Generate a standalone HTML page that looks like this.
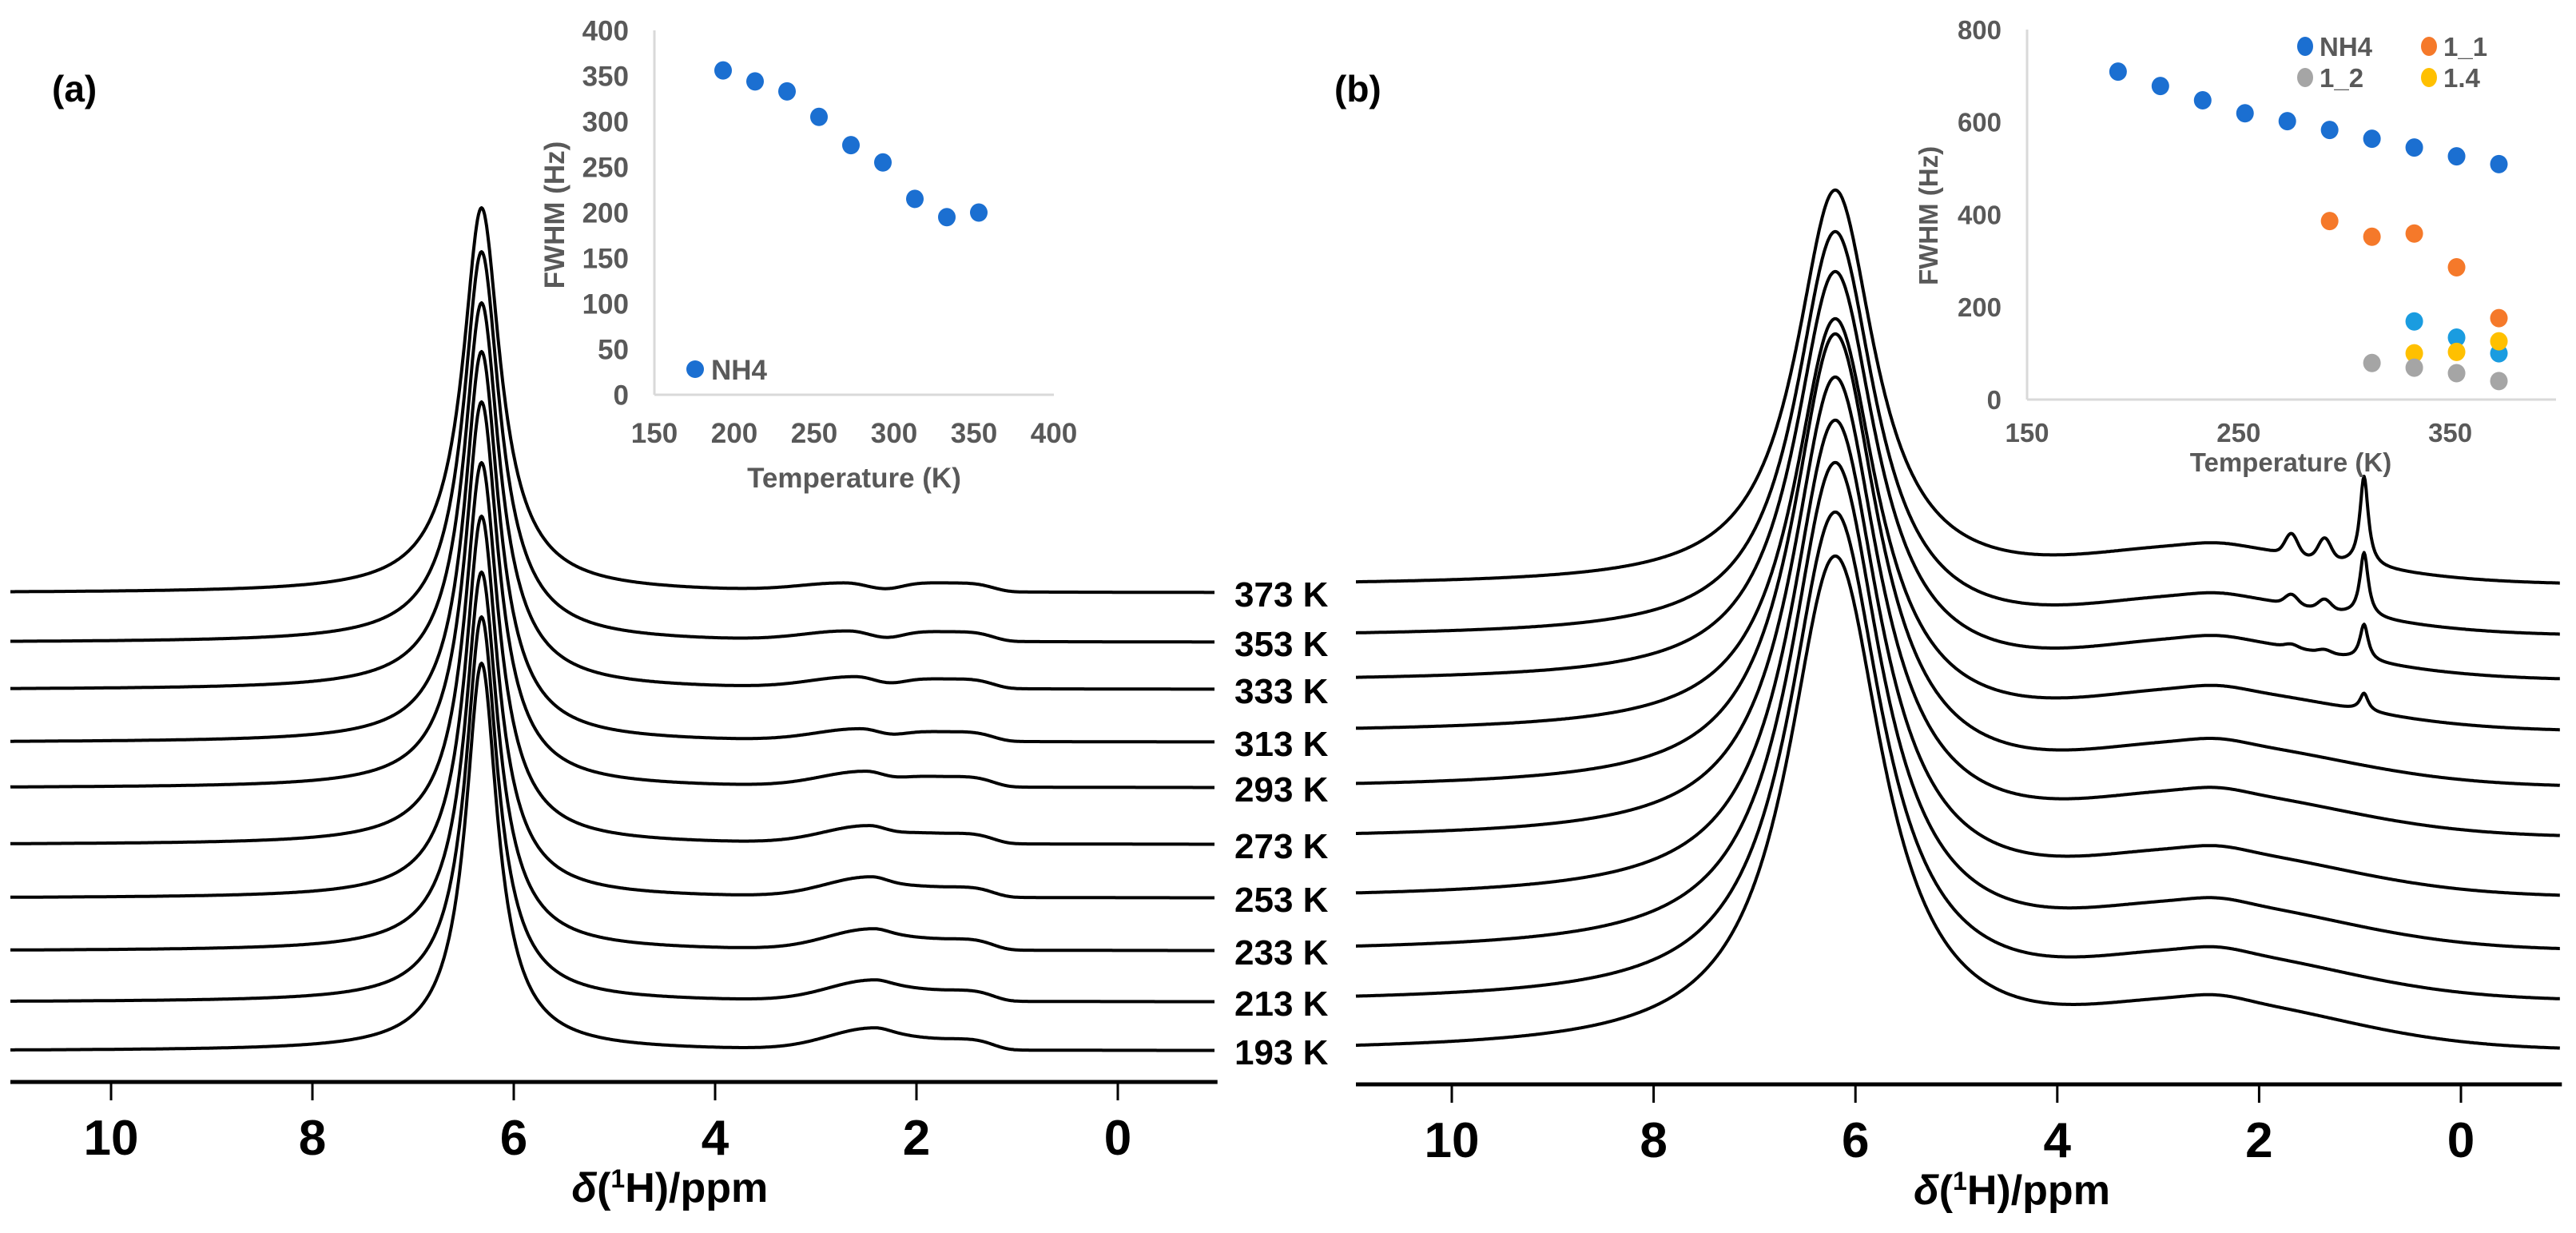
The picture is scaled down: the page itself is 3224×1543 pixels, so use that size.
<!DOCTYPE html>
<html><head><meta charset="utf-8">
<style>
html,body{margin:0;padding:0;background:#fff;}
svg{display:block;}
text{font-family:"Liberation Sans",Arial,sans-serif;}
</style></head>
<body>
<svg id="fig" xmlns="http://www.w3.org/2000/svg" width="3224" height="1543" viewBox="0 0 3224 1543">
<rect width="3224" height="1543" fill="#fff"/>
<text x="65" y="127" font-size="46" font-weight="bold">(a)</text>
<text x="1670" y="127" font-size="46" font-weight="bold">(b)</text>
<g id="gA"></g>
<g id="gB"></g>
<g id="gL"></g>
<g id="insA"></g>
<g id="insB"></g>
</svg>
<script>
// ---------- data ----------
const temps = [193,213,233,253,273,293,313,333,353,373];
const ppmTicks = [10,8,6,4,2,0];
// panel (a)
const heightA = [485,482,474,478,478,483,489,484,489,482];
const widthA = [0.36,0.36,0.37,0.37,0.38,0.38,0.39,0.4,0.41,0.42];
const humpA = [27,26,26,25,22,19,15,14,12,10];
const humpPosA = [2.42,2.42,2.43,2.45,2.47,2.5,2.55,2.6,2.67,2.7];
const shoulderA = [14,14,14,13,13,13,12,12,12,11];
const baseA = [1315,1254,1190,1124,1057,986,929,863,804,742];
// panel (b)
const heightB = [621,614,613,599,578,569,518,513,507,495];
const widthB = [1.15,1.12,1.1,1.08,1.05,1.03,1.0,0.98,0.96,0.95];
const broadB = [53,52,51,50,49,48,46,45,43,42];
const sharpB = [0,0,0,0,0,0,22,45,80,112];
const smallB = [0,0,0,0,0,0,0,4,12,25];
const baseB = [1317,1255,1192,1125,1050,987,917,853,797,733];
// inset (a)
const insATemps = [193,213,233,253,273,293,313,333,353];
const insAVals = [356,344,333,305,274,255,215,195,200];
const insAYTicks = [0,50,100,150,200,250,300,350,400];
const insAXTicks = [150,200,250,300,350,400];
// inset (b)
const nh4T = [193,213,233,253,273,293,313,333,353,373];
const nh4V = [709,678,647,619,602,583,564,545,526,509];
const s11T = [293,313,333,353,373];
const s11V = [386,352,359,286,176];
const s12T = [313,333,353,373];
const s12V = [79,69,57,40];
const s13T = [333,353,373];
const s13V = [169,134,100];
const s14T = [333,353,373];
const s14V = [100,103,126];
const insBYTicks = [0,200,400,600,800];
const insBXTicks = [150,250,350];

const NS="http://www.w3.org/2000/svg";
function mk(tag, attrs, parent){const e=document.createElementNS(NS,tag);for(const k in attrs)e.setAttribute(k,attrs[k]);parent.appendChild(e);return e;}

const xA = p => 1399 - 126*p;
const xB = p => 3080 - 126.3*p;
function lor(x,c,w){const g=w/2;return g*g/((x-c)*(x-c)+g*g);}
function gau(x,c,s){return Math.exp(-(x-c)*(x-c)/(2*s*s));}

function sigA(i,p){
  let v = heightA[i]*(0.85*lor(p,6.32,widthA[i]) + 0.15*lor(p,6.32,widthA[i]*2.2));
  const hp=humpPosA[i]; const s = p>hp?0.45:0.22;
  v += humpA[i]*gau(p,hp,s);
  v += shoulderA[i]*Math.exp(-Math.pow((p-1.7)/0.5,4));
  return v;
}
function sigB(i,p){
  let v = heightB[i]*lor(p,6.2,widthB[i]);
  v += broadB[i]*gau(p,2.5,p>2.5?1.1:1.3);
  v += 5*gau(p,2.4,0.25)*(broadB[i]/53);
  v += sharpB[i]*lor(p,0.96,0.1);
  v += smallB[i]*gau(p,1.68,0.06);
  v += smallB[i]*gau(p,1.35,0.06);
  return v;
}

function drawPanel(g, xf, sig, base, pmax, pmin, name){
  for(let i=0;i<temps.length;i++){
    let d='';
    for(let p=pmax;p>=pmin-1e-9;p-=0.01){
      const x=xf(p), y=base[i]-sig(i,p);
      d += (d?'L':'M')+x.toFixed(1)+','+y.toFixed(1);
    }
    const path=mk('path',{d:d,fill:'none',stroke:'#000','stroke-width':4,'stroke-linejoin':'round'},g);
    
    
  }
}
function drawAxis(g, xf, pmax, pmin, y, name){
  const ax=mk('line',{x1:xf(pmax),x2:xf(pmin),y1:y,y2:y,stroke:'#000','stroke-width':5},g);
  
  
  ppmTicks.forEach(t=>{
    const tk=mk('line',{x1:xf(t),x2:xf(t),y1:y,y2:y+23,stroke:'#000','stroke-width':3},g);
    
    
    const tl=mk('text',{x:xf(t),y:y+91,'font-size':62,'font-weight':'bold','text-anchor':'middle'},g);
    tl.textContent=t;
    
    
  });
  const tt=mk('text',{x:xf(4.45),y:y+150,'font-size':52,'font-weight':'bold','text-anchor':'middle'},g);
  tt.innerHTML='<tspan font-style="italic">δ</tspan>(<tspan baseline-shift="super" font-size="32">1</tspan>H)/ppm';
  
  
}
const gA=document.getElementById('gA'), gB=document.getElementById('gB');
drawPanel(gA,xA,sigA,baseA,11,-0.96,'panel-a');
drawPanel(gB,xB,sigB,baseB,10.95,-0.98,'panel-b');
drawAxis(gA,xA,11,-0.99,1354,'panel-a');
drawAxis(gB,xB,10.95,-1,1357,'panel-b');

const gL=document.getElementById('gL');
temps.forEach((t,i)=>{
  const tx=mk('text',{x:1545,y:baseA[i]+17,'font-size':44,'font-weight':'bold'},gL);
  tx.textContent=t+' K';
  
  
});

function inset(g, cfg){
  const {x0,x1,y0,y1,tmin,tmax,vmax,fs,name}=cfg;
  const sx=t=>x0+(t-tmin)/(tmax-tmin)*(x1-x0);
  const sy=v=>y1-v/vmax*(y1-y0);
  const ya=mk('line',{x1:x0,x2:x0,y1:y0,y2:y1,stroke:'#d9d9d9','stroke-width':3},g);
  
  
  const xa=mk('line',{x1:x0,x2:x1,y1:y1,y2:y1,stroke:'#d9d9d9','stroke-width':3},g);
  
  
  cfg.yt.forEach(v=>{
    const t=mk('text',{x:x0-32,y:sy(v)+fs*0.36,'font-size':fs,'font-weight':'bold','text-anchor':'end',fill:'#595959'},g);
    t.textContent=v;
    
    
  });
  cfg.xt.forEach(v=>{
    const t=mk('text',{x:sx(v),y:cfg.xty,'font-size':fs,'font-weight':'bold','text-anchor':'middle',fill:'#595959'},g);
    t.textContent=v;
    
    
  });
  const xt=mk('text',{x:cfg.xtx,y:cfg.xtitley,'font-size':fs,'font-weight':'bold','text-anchor':'middle',fill:'#595959'},g);
  xt.textContent='Temperature (K)';
  
  
  const yt=mk('text',{x:0,y:0,'font-size':fs,'font-weight':'bold','text-anchor':'middle',fill:'#595959',transform:`translate(${cfg.ytx},${cfg.yty}) rotate(-90)`},g);
  yt.textContent='FWHM (Hz)';
  
  
  return {sx,sy};
}
function dots(g,s,T,V,col,name){
  T.forEach((t,i)=>{
    const c=mk('ellipse',{cx:s.sx(t),cy:s.sy(V[i]),rx:11,ry:11.5,fill:col},g);
    
    
  });
}
const insA=document.getElementById('insA');
const sA=inset(insA,{x0:819,x1:1319,y0:38,y1:494,tmin:150,tmax:400,vmax:400,fs:35,name:'inset-a',
  yt:insAYTicks,xt:insAXTicks,xty:554,xtx:1069,xtitley:610,ytx:706,yty:269});
dots(insA,sA,insATemps,insAVals,'#1b6fd1','inset-a-nh4');
const la=mk('circle',{cx:870,cy:462,r:11,fill:'#1b6fd1'},insA);


const lat=mk('text',{x:890,y:475,'font-size':35,'font-weight':'bold',fill:'#595959'},insA);
lat.textContent='NH4';



const insB=document.getElementById('insB');
const sB=inset(insB,{x0:2537,x1:3199,y0:37,y1:500,tmin:150,tmax:400,vmax:800,fs:33,name:'inset-b',
  yt:insBYTicks,xt:insBXTicks,xty:553,xtx:2867,xtitley:590,ytx:2425,yty:270});
dots(insB,sB,nh4T,nh4V,'#1b6fd1','inset-b-nh4');
dots(insB,sB,s11T,s11V,'#f5792a','inset-b-1-1');
dots(insB,sB,s13T,s13V,'#1a9ce0','inset-b-1-3');
dots(insB,sB,s14T,s14V,'#ffc000','inset-b-1-4');
dots(insB,sB,s12T,s12V,'#a5a5a5','inset-b-1-2');
const leg=[['NH4','#1b6fd1',2885,58],['1_1','#f5792a',3040,58],['1_2','#a5a5a5',2885,97],['1.4','#ffc000',3040,97]];
leg.forEach(l=>{
  const c=mk('ellipse',{cx:l[2],cy:l[3],rx:10,ry:12,fill:l[1]},insB);
  
  
  const t=mk('text',{x:l[2]+18,y:l[3]+12,'font-size':33,'font-weight':'bold',fill:'#595959'},insB);
  t.textContent=l[0];
  
  
});
</script>
</body></html>
